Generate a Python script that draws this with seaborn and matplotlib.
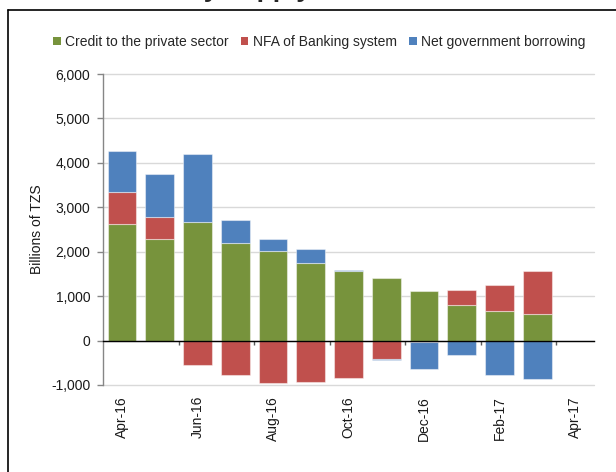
import numpy as np
import pandas as pd
import matplotlib
matplotlib.use("Agg")
import matplotlib.pyplot as plt
from matplotlib.lines import Line2D
from matplotlib.ticker import FuncFormatter
import seaborn as sns

# Monthly contributions to money supply growth (Billions of TZS)
months = ["Apr-16", "May-16", "Jun-16", "Jul-16", "Aug-16", "Sep-16",
          "Oct-16", "Nov-16", "Dec-16", "Jan-17", "Feb-17", "Mar-17"]
credit_private = [2620, 2285, 2675, 2195, 2005, 1745, 1575, 1415, 1115, 800, 665, 600]
nfa_banking = [735, 495, -560, -765, -965, -930, -840, -425, -40, 345, 585, 975]
net_gov_borrowing = [910, 980, 1520, 525, 285, 315, 15, -15, -595, -315, -765, -855]

series_names = ["Credit to the private sector", "NFA of Banking system",
                "Net government borrowing"]
series_colors = ["#77933C", "#C0504D", "#4F81BD"]
tick_labels = ["Apr-16", "Jun-16", "Aug-16", "Oct-16", "Dec-16", "Feb-17", "Apr-17"]
y_ticks = [-1000, 0, 1000, 2000, 3000, 4000, 5000, 6000]

sns.set_theme(style="white")
plt.rcParams["font.family"] = ["Liberation Sans", "DejaVu Sans"]

fig = plt.figure(figsize=(6.16, 4.72), dpi=100)
ax = fig.add_axes([103 / 616, 1 - 385 / 472, (594 - 103) / 616, (385 - 74) / 472])

# stack positive and negative parts separately
pos_base = np.zeros(len(months))
neg_base = np.zeros(len(months))
for name, values, color in zip(series_names,
                               [credit_private, nfa_banking, net_gov_borrowing],
                               series_colors):
    vals = np.asarray(values, dtype=float)
    bottoms = np.where(vals >= 0, pos_base, neg_base)
    df = pd.DataFrame({"month": months, "value": vals})
    sns.barplot(data=df, x="month", y="value", order=months, color=color,
                width=0.76, bottom=bottoms, label=name, ax=ax,
                edgecolor=(1, 1, 1, 0.45), linewidth=0.8, saturation=1,
                errorbar=None, legend=False)
    pos_base = pos_base + np.clip(vals, 0, None)
    neg_base = neg_base + np.clip(vals, None, 0)

if ax.get_legend() is not None:
    ax.get_legend().remove()

ax.set_xlim(-0.5, 12.5)
ax.set_ylim(-1000, 6000)
ax.set_yticks(y_ticks)
ax.yaxis.set_major_formatter(FuncFormatter(lambda v, p: f"{v:,.0f}"))
ax.set_xticks(range(0, 13, 2))
ax.set_xticklabels(tick_labels, rotation=90, fontsize=10, color="#1a1a1a")
ax.tick_params(axis="x", length=0, pad=8)
ax.tick_params(axis="y", left=True, length=4, width=1, color="#868686",
               direction="out", pad=5, labelsize=10, labelcolor="#1a1a1a")
ax.set_xlabel("")
ax.set_ylabel("Billions of TZS", fontsize=10, color="#1a1a1a", labelpad=5)

ax.grid(axis="y", color="#D9D9D9", linewidth=1)
ax.grid(axis="x", visible=False)
ax.set_axisbelow(True)
for gl in ax.get_ygridlines():
    gl.set_clip_on(False)
for side in ["top", "right", "bottom"]:
    ax.spines[side].set_visible(False)
ax.spines["left"].set_color("#868686")
ax.spines["left"].set_linewidth(1)

# category axis crossing at zero with ticks between pairs of months
zero_axis = ax.secondary_xaxis(1 / 7)
zero_axis.set_zorder(5)
zero_axis.set_xticks([1.5, 3.5, 5.5, 7.5, 9.5, 11.5])
zero_axis.tick_params(axis="x", direction="out", length=3, width=1,
                      color="#595959", labelbottom=False)
zero_axis.spines["bottom"].set_color("black")
zero_axis.spines["bottom"].set_linewidth(1)

handles = [plt.Rectangle((0, 0), 1, 1, facecolor=c, edgecolor="none")
           for c in series_colors]
fig.legend(handles, series_names, loc="center", bbox_to_anchor=(0.518, 1 - 42 / 472),
           ncol=3, frameon=False, fontsize=10, handlelength=0.55,
           handleheight=0.55, handletextpad=0.3, columnspacing=0.9,
           borderaxespad=0)

# chart frame and title
fig.add_artist(Line2D([8 / 616, 8 / 616], [0, 1 - 10 / 472], color="black", lw=1.2))
fig.add_artist(Line2D([8 / 616, 1], [1 - 10 / 472, 1 - 10 / 472], color="black", lw=1.2))
fig.text(135 / 616, 1 + 2.5 / 472, "Money supply", fontsize=19, fontweight="bold",
         ha="left", va="baseline")

fig.savefig("out.png", dpi=100)
